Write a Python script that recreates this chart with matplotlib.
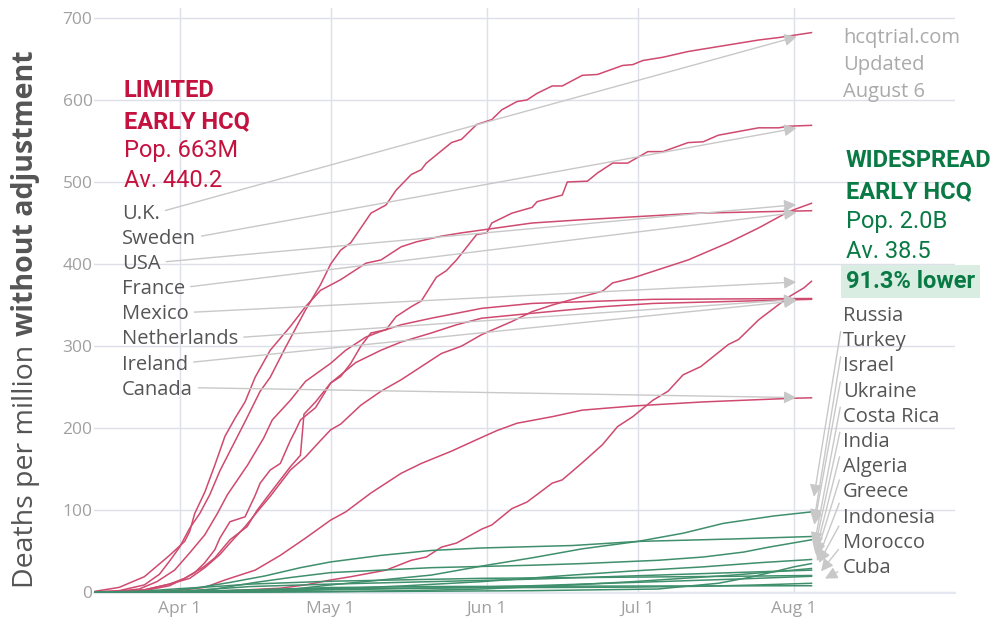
import matplotlib
matplotlib.use("Agg")
import matplotlib.pyplot as plt
import matplotlib.dates as mdates
import pandas as pd

plt.rcParams["font.family"] = ["Open Sans", "DejaVu Sans"]

START = pd.Timestamp("2020-04-01")

# x values: days counted from Apr 1 2020, y values: deaths per million
UK_DAYS = [-17, -12, -7, -4, -2, 0, 2, 4, 6, 8, 10, 13, 16, 18, 21, 25, 28, 30, 32, 34,
           38, 41, 43, 46, 48, 49, 54, 56, 59, 62, 64, 67, 69, 71, 74, 76, 80, 83, 88, 90,
           92, 96, 101, 104, 111, 115, 119, 125.5]
UK_VALS = [0.5, 2, 9, 22, 38, 55, 78, 96, 119, 148, 172, 208, 245, 262, 298, 344, 375, 400, 417, 426,
           462, 472, 490, 509, 515, 523, 548, 552, 570, 576, 588, 598, 600, 608, 617, 617, 630, 631, 642, 643,
           648, 652, 659, 662, 669, 673, 676, 682]

SWEDEN_DAYS = [-17, -12, -7, -2, 1, 3, 5, 7, 8, 10, 13, 14, 15, 16, 18, 20, 22, 23, 24, 27,
               30, 32, 34, 36, 38, 41, 43, 46, 48, 51, 53, 55, 59, 61, 62, 66, 70, 71, 76, 77,
               81, 83, 86, 89, 93, 96, 101, 104, 107, 115, 119, 121, 125.5]
SWEDEN_VALS = [0, 0.5, 3, 10, 17, 24, 36, 52, 66, 86, 92, 105, 118, 133, 149, 157, 185, 197, 210, 225,
               255, 263, 279, 300, 316, 320, 336, 348, 355, 384, 392, 405, 436, 438, 450, 462, 469, 476, 484, 500,
               501, 511, 523, 523, 537, 537, 548, 549, 557, 566, 566, 568, 569]

USA_DAYS = [-17, -12, -7, -2, 2, 5, 8, 10, 13, 15, 18, 22, 25, 28, 30, 32, 36, 40, 44, 48,
            52, 56, 60, 66, 70, 74, 78, 84, 86, 90, 94, 101, 109, 115, 121, 125.5]
USA_VALS = [0.2, 0.8, 3, 10, 17, 30, 46, 60, 80, 95, 117, 149, 165, 185, 198, 205, 228, 245, 259, 275,
            291, 300, 314, 330, 342, 350, 357, 367, 377, 383, 391, 405, 426, 444, 464, 474]

FRANCE_DAYS = [-17, -12, -7, -2, 1, 2, 3, 5, 7, 9, 11, 13, 15, 18, 22, 25, 28, 32, 37, 40,
               44, 47, 52, 56, 63, 70, 80, 103, 125.5]
FRANCE_VALS = [1, 6, 19, 45, 62, 74, 96, 122, 155, 190, 212, 232, 262, 295, 324, 348, 368, 381, 401, 405,
               421, 427, 434, 438, 444, 450, 454, 462, 465]

MEXICO_DAYS = [-17, 0, 10, 20, 25, 30, 34, 41, 46, 49, 52, 55, 60, 62, 66, 69, 74, 76, 80, 84,
               87, 90, 94, 97, 100, 103.5, 109, 111, 115, 121, 124, 125.5]
MEXICO_VALS = [0, 0.5, 2, 5, 9, 15, 19, 27, 39, 43, 55, 60, 77, 82, 102, 110, 133, 137, 158, 180,
               202, 214, 234, 245, 265, 275, 302, 308, 332, 360, 371, 379]

NETHERLANDS_DAYS = [-17, -12, -8, -4.5, -1, 2, 5, 7.5, 9.5, 11.5, 13.5, 16.7, 18.4, 22, 25, 30, 33, 37, 40, 44,
                    50, 60, 70, 94, 125.5]
NETHERLANDS_VALS = [0.3, 1.5, 4, 13, 27, 48, 70, 96, 119, 137, 155, 188, 210, 234, 257, 279, 295, 311, 318, 326,
                    334, 346, 352, 357, 358]

IRELAND_DAYS = [-17, -12, -7, -2, 1, 4.8, 7, 10, 13.4, 15.4, 18, 22, 24, 24.7, 27, 30, 35, 40, 44, 50,
                55, 60, 70, 84, 94, 125.5]
IRELAND_VALS = [0, 0.5, 2, 8, 17, 31, 42, 64, 80, 100, 121, 153, 167, 217, 232, 255, 280, 295, 305, 316,
                326, 334, 340, 348, 352, 357]

CANADA_DAYS = [-17, -7, 0, 5, 9, 15, 20, 25, 30, 33, 38, 44, 48, 54, 59, 63, 67, 74, 80, 90,
               104, 122, 125.5]
CANADA_VALS = [0, 0.5, 2.5, 6, 15, 27, 45, 66, 88, 98, 121, 145, 157, 172, 186, 197, 206, 214, 222, 227,
               232, 236.5, 237]

RUSSIA_DAYS = [-17, 10, 20, 30, 40, 50, 61, 70, 80, 91, 100, 108, 118, 125.5]
RUSSIA_VALS = [0, 0.3, 2, 9, 15, 21, 33, 42, 53, 62, 72, 84, 93, 98]
TURKEY_DAYS = [-17, -2, 3, 10, 17, 24, 30, 40, 50, 60, 78, 91, 110, 125.5]
TURKEY_VALS = [0, 1.5, 5, 12, 20, 30, 37, 45, 51, 54, 57, 62, 65, 68]
ISRAEL_DAYS = [-17, 0, 7, 15, 22, 30, 50, 70, 80, 95, 104, 112, 117, 125.5]
ISRAEL_VALS = [0, 0.8, 4, 12, 18, 24, 30, 33, 35, 39, 43, 49, 55, 64]
UKRAINE_DAYS = [-17, 10, 20, 30, 45, 60, 78, 90, 104, 115, 125.5]
UKRAINE_VALS = [0, 0.2, 1, 4, 8, 13, 21, 26, 31, 36, 40]
COSTA_RICA_DAYS = [-17, 10, 40, 70, 95, 100, 107, 113, 118, 122, 125.5]
COSTA_RICA_VALS = [0, 0.4, 1, 2, 4, 7, 11, 18, 25, 31, 35]
INDIA_DAYS = [-17, 10, 30, 45, 60, 75, 90, 100, 110, 120, 125.5]
INDIA_VALS = [0, 0.05, 0.8, 2, 4, 8, 13, 17, 21, 26, 29]
ALGERIA_DAYS = [-17, 0, 7, 14, 30, 50, 70, 90, 110, 125.5]
ALGERIA_VALS = [0, 1, 4, 7, 10, 13, 16, 20, 24, 27]
GREECE_DAYS = [-17, -7, 0, 7, 14, 30, 60, 90, 110, 125.5]
GREECE_VALS = [0, 1.5, 4.5, 7, 10, 13.5, 17, 18.5, 19.5, 20.5]
INDONESIA_DAYS = [-17, 0, 15, 30, 50, 70, 90, 110, 125.5]
INDONESIA_VALS = [0, 0.5, 2, 3, 5, 8, 12, 16, 19.5]
MOROCCO_DAYS = [-17, 0, 15, 30, 50, 70, 90, 105, 115, 125.5]
MOROCCO_VALS = [0, 0.7, 3, 4.5, 5.3, 5.8, 6.3, 7.5, 9, 11]
CUBA_DAYS = [-17, 0, 15, 30, 50, 80, 125.5]
CUBA_VALS = [0, 0.5, 3, 5.8, 7, 7.5, 8]

LIMITED_NAMES = ["U.K.", "Sweden", "USA", "France", "Mexico", "Netherlands", "Ireland", "Canada"]
LIMITED_DATA = [(UK_DAYS, UK_VALS), (SWEDEN_DAYS, SWEDEN_VALS), (USA_DAYS, USA_VALS),
                (FRANCE_DAYS, FRANCE_VALS), (MEXICO_DAYS, MEXICO_VALS),
                (NETHERLANDS_DAYS, NETHERLANDS_VALS), (IRELAND_DAYS, IRELAND_VALS),
                (CANADA_DAYS, CANADA_VALS)]

WIDE_NAMES = ["Russia", "Turkey", "Israel", "Ukraine", "Costa Rica", "India", "Algeria",
              "Greece", "Indonesia", "Morocco", "Cuba"]
WIDE_DATA = [(RUSSIA_DAYS, RUSSIA_VALS), (TURKEY_DAYS, TURKEY_VALS), (ISRAEL_DAYS, ISRAEL_VALS),
             (UKRAINE_DAYS, UKRAINE_VALS), (COSTA_RICA_DAYS, COSTA_RICA_VALS),
             (INDIA_DAYS, INDIA_VALS), (ALGERIA_DAYS, ALGERIA_VALS), (GREECE_DAYS, GREECE_VALS),
             (INDONESIA_DAYS, INDONESIA_VALS), (MOROCCO_DAYS, MOROCCO_VALS), (CUBA_DAYS, CUBA_VALS)]

XTICKS = ["2020-04-01", "2020-05-01", "2020-06-01", "2020-07-01", "2020-08-01"]
XTICK_LABELS = ["Apr 1", "May 1", "Jun 1", "Jul 1", "Aug 1"]
YTICKS = [0, 100, 200, 300, 400, 500, 600, 700]

COLORS = {
    "red_line":   "#cf4a6f",
    "green_line": "#3f8f6c",
    "red_text":   "#c4123f",
    "green_text": "#0a7a45",
    "label":      "#555555",
    "light":      "#aaaaaa",
    "tick":       "#a0a0a0",
    "arrow":      "#c8c8c8",
    "grid":       "#dde0e9",
    "box":        "#d9ede3",
}

W, H = 995, 619


def to_dates(days):
    return START + pd.to_timedelta(days, unit="D")


def fpx(x, y_top):
    """figure pixel position measured from the top-left corner"""
    return (x, H - y_top)


fig = plt.figure(figsize=(W / 100, H / 100), dpi=100)
ax = fig.add_axes([94 / W, 1 - 593 / H, (955 - 94) / W, (593 - 8) / H])

for days, vals in LIMITED_DATA:
    ax.plot(to_dates(days), vals, color=COLORS["red_line"], lw=1.1, zorder=3)
for days, vals in WIDE_DATA:
    ax.plot(to_dates(days), vals, color=COLORS["green_line"], lw=1.1, zorder=3)

ax.set_xlim(START - pd.Timedelta(days=17), START + pd.Timedelta(days=154))
ax.set_ylim(-0.85, 712)
ax.set_xticks(pd.to_datetime(XTICKS))
ax.set_xticklabels(XTICK_LABELS)
ax.set_yticks(YTICKS)
ax.tick_params(axis="both", length=0, labelsize=12.5, colors=COLORS["tick"])
ax.tick_params(axis="x", pad=6)
ax.tick_params(axis="y", pad=1)
ax.grid(True, color=COLORS["grid"], lw=1)
ax.set_axisbelow(True)
for side in ("top", "right", "left"):
    ax.spines[side].set_visible(False)
ax.spines["bottom"].set_color("#e6e8f1")
ax.spines["bottom"].set_linewidth(1.5)

arrow_kw = dict(arrowstyle="-|>", color=COLORS["arrow"], lw=1, mutation_scale=18,
                shrinkA=2, shrinkB=11)

for i, (name, (days, vals)) in enumerate(zip(LIMITED_NAMES, LIMITED_DATA)):
    end = mdates.date2num(to_dates(days)[-1])
    ax.annotate(name, xy=(end, vals[-1]), xycoords="data",
                xytext=fpx(122, 219 + 25.1 * i), textcoords="figure pixels",
                ha="left", va="baseline", fontsize=14.5, color=COLORS["label"],
                arrowprops=dict(relpos=(1, 0.6), **arrow_kw), zorder=5)

for i, (name, (days, vals)) in enumerate(zip(WIDE_NAMES, WIDE_DATA)):
    end = mdates.date2num(to_dates(days)[-1])
    ax.annotate(name, xy=(end, vals[-1]), xycoords="data",
                xytext=fpx(843, 321 + 25.2 * i), textcoords="figure pixels",
                ha="left", va="baseline", fontsize=14.5, color=COLORS["label"],
                arrowprops=dict(relpos=(0, 0.45), **arrow_kw), zorder=5)

# group headers
head = dict(family=["Roboto", "DejaVu Sans"], fontsize=17, va="baseline", ha="left")
for text, y, bold in [("LIMITED", 97, True), ("EARLY HCQ", 128, True),
                      ("Pop. 663M", 157, False), ("Av. 440.2", 187, False)]:
    fig.text(*[v / s for v, s in zip(fpx(124, y), (W, H))], text, color=COLORS["red_text"],
             fontweight="bold" if bold else "normal", **head)
for text, y, bold in [("WIDESPREAD", 167, True), ("EARLY HCQ", 198, True),
                      ("Pop. 2.0B", 228, False), ("Av. 38.5", 258, False)]:
    fig.text(*[v / s for v, s in zip(fpx(846, y), (W, H))], text, color=COLORS["green_text"],
             fontweight="bold" if bold else "normal", **head)
fig.text(846 / W, 1 - 288 / H, "91.3% lower", color=COLORS["green_text"], fontweight="bold",
         bbox=dict(boxstyle="square,pad=0.22", fc=COLORS["box"], ec="none"), **head)

for text, y in [("hcqtrial.com", 43), ("Updated", 70), ("August 6", 97)]:
    fig.text(843 / W, 1 - y / H, text, fontsize=14.5, color=COLORS["light"],
             ha="left", va="baseline")

# y axis title with a bold second half
t1 = fig.text(26 / W, 1 - 588 / H, "Deaths per million", rotation=90, ha="center",
              va="bottom", fontsize=20.5, color=COLORS["label"])
fig.text(0, 0, "")
ax.annotate("without adjustment", xy=(0.5, 1), xycoords=t1, xytext=(0, 6),
            textcoords="offset points", rotation=90, ha="center", va="bottom",
            fontsize=20.5, fontweight="bold", color=COLORS["label"], annotation_clip=False)

fig.savefig("out.png", dpi=100)
